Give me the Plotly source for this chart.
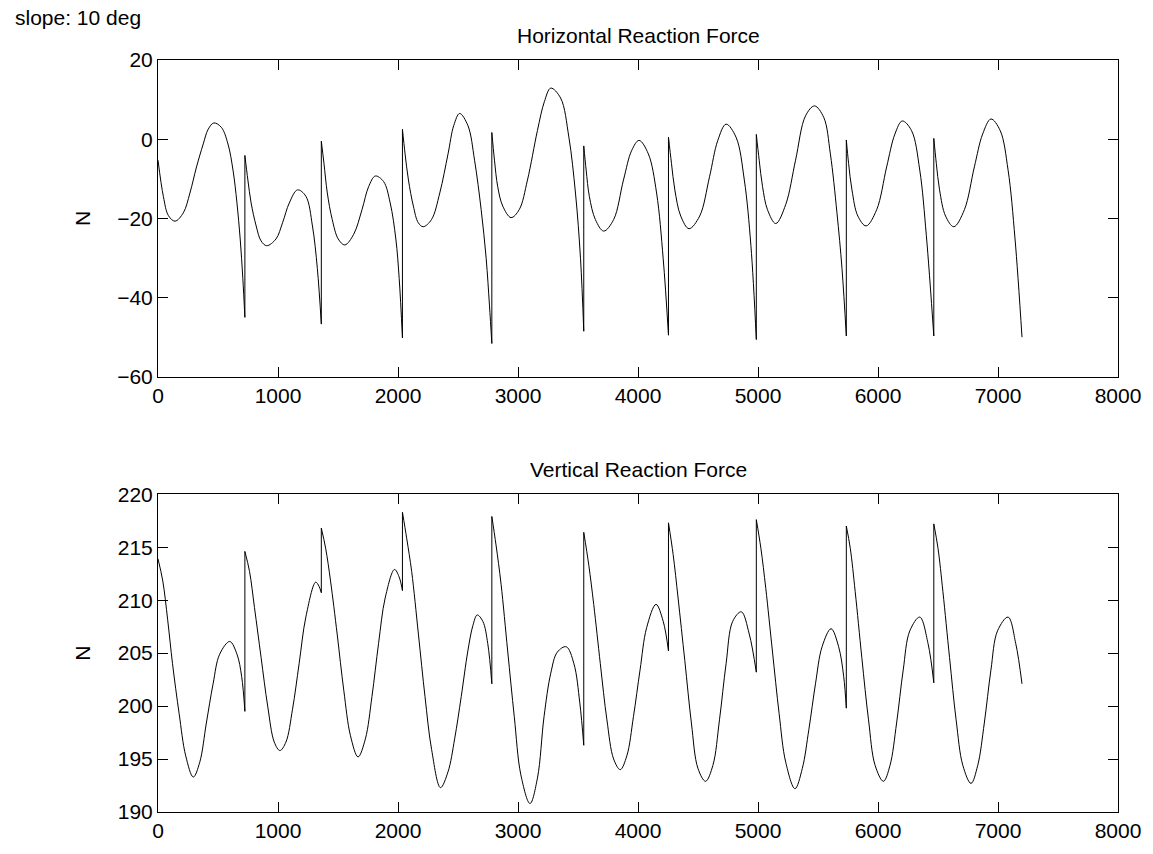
import plotly.graph_objects as go

# ---------------- data ----------------
horiz_x = [0, 45, 87, 142, 211, 266, 321, 377, 418, 465, 528, 583, 625, 658, 685, 707, 724,
           724, 749, 776, 818, 859, 906, 983, 1038, 1094, 1163, 1232, 1287, 1328, 1361,
           1361, 1383, 1411, 1452, 1502, 1557, 1631, 1700, 1755, 1811, 1880, 1935, 1982, 2010, 2037,
           2037, 2059, 2087, 2128, 2169, 2210, 2279, 2348, 2417, 2465, 2514, 2583, 2638, 2693, 2735, 2762, 2782,
           2782, 2804, 2831, 2873, 2942, 3010, 3079, 3162, 3220, 3273, 3355, 3424, 3479, 3521, 3548,
           3548, 3568, 3595, 3645, 3714, 3797, 3879, 3948, 4009, 4086, 4155, 4210, 4254,
           4254, 4279, 4307, 4356, 4425, 4514, 4596, 4665, 4734, 4817, 4886, 4941, 4986,
           4986, 5010, 5038, 5079, 5148, 5231, 5313, 5396, 5471, 5548, 5603, 5658, 5700, 5736,
           5736, 5755, 5783, 5832, 5901, 5989, 6072, 6141, 6202, 6279, 6348, 6403, 6465,
           6465, 6486, 6513, 6563, 6632, 6720, 6803, 6872, 6941, 7018, 7084, 7142, 7200]
horiz_y = [-5.3, -14.5, -19.3, -20.7, -18.6, -13.6, -7.0, -1.2, 2.5, 4.1, 3.0, -1.2, -7.8, -16.1, -25.2, -35.2, -45.0,
           -4.1, -10.3, -16.1, -21.9, -25.7, -26.9, -25.2, -21.1, -16.1, -12.8, -14.4, -21.9, -32.7, -46.7,
           -0.5, -6.1, -13.6, -20.3, -25.2, -26.7, -24.0, -17.8, -12.0, -9.3, -10.7, -16.1, -25.2, -35.2, -50.2,
           2.5, -3.7, -10.3, -16.9, -21.1, -22.1, -20.3, -13.6, -3.7, 3.5, 6.5, 3.4, -5.3, -17.8, -30.2, -41.9, -51.6,
           1.7, -5.3, -12.0, -16.9, -19.8, -17.8, -10.3, 2.2, 9.5, 12.9, 10.4, 0.5, -13.6, -30.2, -48.5,
           -1.7, -7.8, -14.5, -20.3, -23.2, -20.3, -10.3, -2.8, -0.3, -3.7, -13.6, -30.2, -49.5,
           0.5, -6.1, -12.8, -19.4, -22.6, -19.4, -9.5, -0.3, 3.8, 0.5, -10.3, -26.9, -50.6,
           1.2, -5.3, -12.0, -17.8, -21.3, -16.5, -5.3, 5.9, 8.4, 5.5, -3.7, -18.6, -32.7, -49.7,
           -0.2, -6.1, -12.8, -19.4, -21.9, -17.8, -7.0, 1.3, 4.6, 2.2, -7.8, -24.4, -49.7,
           0.2, -6.1, -12.8, -19.4, -22.1, -17.8, -7.0, 1.3, 5.1, 2.2, -7.8, -25.2, -50.0]

vert_x = [0, 40, 80, 121, 176, 231, 294, 348, 403, 459, 514, 598, 658, 697, 724,
          724, 763, 804, 859, 914, 969, 1016, 1066, 1121, 1176, 1232, 1314, 1342, 1361,
          1361, 1397, 1438, 1493, 1548, 1604, 1667, 1728, 1783, 1838, 1893, 1971, 2009, 2037,
          2037, 2073, 2114, 2170, 2225, 2280, 2354, 2417, 2472, 2527, 2582, 2624, 2660, 2707, 2748, 2782,
          2782, 2817, 2859, 2914, 2969, 3024, 3100, 3162, 3217, 3273, 3328, 3402, 3466, 3515, 3548,
          3548, 3590, 3631, 3686, 3741, 3797, 3852, 3907, 3962, 4017, 4072, 4150, 4210, 4254,
          4254, 4293, 4334, 4390, 4445, 4500, 4563, 4624, 4679, 4734, 4789, 4861, 4927, 4986,
          4986, 5024, 5065, 5120, 5176, 5231, 5308, 5369, 5424, 5479, 5534, 5609, 5672, 5714, 5736,
          5736, 5769, 5810, 5865, 5921, 5976, 6045, 6100, 6155, 6210, 6265, 6348, 6417, 6465,
          6465, 6500, 6541, 6596, 6651, 6707, 6775, 6831, 6886, 6941, 6996, 7084, 7148, 7200]
vert_y = [213.9, 211.8, 208.2, 204.0, 199.3, 195.3, 193.3, 194.7, 198.4, 202.1, 204.9, 206.1, 204.9, 202.8, 199.5,
          214.6, 212.7, 209.3, 204.6, 200.0, 196.6, 195.8, 196.6, 199.7, 204.0, 208.4, 211.7, 211.3, 210.7,
          216.8, 214.9, 211.8, 206.8, 201.5, 197.2, 195.2, 196.9, 200.9, 205.9, 210.2, 212.9, 212.2, 210.9,
          218.3, 215.8, 212.7, 206.8, 200.9, 195.9, 192.3, 193.8, 196.9, 200.9, 205.2, 207.6, 208.6, 208.0, 205.9, 202.1,
          217.9, 215.2, 211.5, 205.2, 199.0, 193.5, 190.8, 193.2, 199.0, 203.1, 205.1, 205.6, 204.0, 200.3, 196.3,
          216.4, 213.3, 209.6, 204.0, 198.7, 195.0, 194.0, 195.3, 199.0, 203.4, 207.4, 209.6, 208.0, 205.2,
          217.3, 214.3, 210.2, 204.3, 198.4, 194.1, 192.9, 194.4, 198.7, 204.0, 208.0, 208.9, 206.8, 203.2,
          217.6, 214.9, 211.1, 205.2, 199.3, 194.7, 192.2, 194.1, 197.8, 202.1, 205.6, 207.3, 205.6, 202.8, 199.8,
          217.0, 214.9, 210.8, 204.6, 198.7, 194.4, 192.9, 194.4, 198.4, 203.4, 207.1, 208.4, 205.9, 202.2,
          217.2, 214.9, 210.8, 204.6, 198.7, 194.4, 192.7, 194.4, 198.4, 203.4, 207.1, 208.4, 205.9, 202.1]

x_ticks = [0, 1000, 2000, 3000, 4000, 5000, 6000, 7000, 8000]
horiz_ticks = [-60, -40, -20, 0, 20]
vert_ticks = [190, 195, 200, 205, 210, 215, 220]

panel_titles = ["Horizontal Reaction Force", "Vertical Reaction Force"]
y_label = "N"
fig_note = "slope: 10 deg"


def split_series(xs, ys):
    """Split at repeated x (vertical jumps): smooth pieces + jump segments."""
    sx, sy, jx, jy = [], [], [], []
    for i in range(len(xs)):
        if i > 0 and xs[i] == xs[i - 1]:
            sx.append(None); sy.append(None)
            jx += [xs[i - 1], xs[i], None]
            jy += [ys[i - 1], ys[i], None]
        sx.append(xs[i]); sy.append(ys[i])
    return sx, sy, jx, jy


# ---------------- layout geometry ----------------
W, H = 1153, 854
ML, MR, MT, MB = 158, 28, 60, 32
PW, PH = W - ML - MR, H - MT - MB
top_dom = [(H - MB - 381) / PH, 1.0]
bot_dom = [0.0, (H - MB - 500) / PH]

FONT = "Liberation Sans, Arial, Helvetica, sans-serif"
FS = 21

fig = go.Figure()
for series, (xs, ys) in enumerate([(horiz_x, horiz_y), (vert_x, vert_y)]):
    sx, sy, jx, jy = split_series(xs, ys)
    ax = "" if series == 0 else "2"
    fig.add_trace(go.Scatter(x=sx, y=sy, mode="lines",
                             line=dict(color="black", width=1, shape="spline", smoothing=1.0),
                             xaxis="x" + ax, yaxis="y" + ax, showlegend=False, hoverinfo="skip"))
    fig.add_trace(go.Scatter(x=jx, y=jy, mode="lines",
                             line=dict(color="black", width=1),
                             xaxis="x" + ax, yaxis="y" + ax, showlegend=False, hoverinfo="skip"))

axis_common = dict(showline=True, linecolor="black", linewidth=1, mirror="ticks",
                   ticks="inside", ticklen=10, tickcolor="black", tickwidth=1,
                   showgrid=False, zeroline=False,
                   tickfont=dict(family=FONT, size=FS, color="black"))

fig.update_layout(
    width=W, height=H,
    margin=dict(l=ML, r=MR, t=MT, b=MB),
    paper_bgcolor="white", plot_bgcolor="white",
    xaxis=dict(domain=[0, 1], anchor="y", range=[0, 8000], tickvals=x_ticks,
               ticktext=[str(v) for v in x_ticks], ticklabeloverflow="allow", **axis_common),
    yaxis=dict(domain=top_dom, anchor="x", range=[-60, 20], tickvals=horiz_ticks,
               ticktext=[str(v).replace("-", "\u2212") for v in horiz_ticks], **axis_common),
    xaxis2=dict(domain=[0, 1], anchor="y2", range=[0, 8000], tickvals=x_ticks,
                ticktext=[str(v) for v in x_ticks], ticklabeloverflow="allow", **axis_common),
    yaxis2=dict(domain=bot_dom, anchor="x2", range=[190, 220], tickvals=vert_ticks,
                ticktext=[str(v) for v in vert_ticks], **axis_common),
)

ann_font = dict(family=FONT, size=FS, color="black")
annotations = [
    dict(text=panel_titles[0], xref="paper", yref="paper", x=0.5, y=top_dom[1],
         xanchor="center", yanchor="middle", yshift=25, showarrow=False, font=ann_font),
    dict(text=panel_titles[1], xref="paper", yref="paper", x=0.5, y=bot_dom[1],
         xanchor="center", yanchor="middle", yshift=25, showarrow=False, font=ann_font),
    dict(text=y_label, xref="paper", yref="paper", x=(82 - ML) / PW, y=sum(top_dom) / 2,
         xanchor="center", yanchor="middle", textangle=-90, showarrow=False, font=ann_font),
    dict(text=y_label, xref="paper", yref="paper", x=(82 - ML) / PW, y=sum(bot_dom) / 2,
         xanchor="center", yanchor="middle", textangle=-90, showarrow=False, font=ann_font),
    dict(text=fig_note, xref="paper", yref="paper", x=(12 - ML) / PW, y=(H - MB - 17) / PH,
         xanchor="left", yanchor="middle", showarrow=False, font=ann_font),
]
fig.update_layout(annotations=annotations)

fig.write_html("out.html", config={"displayModeBar": False},
               post_script="document.body.style.margin='0';document.body.style.overflow='hidden';")
